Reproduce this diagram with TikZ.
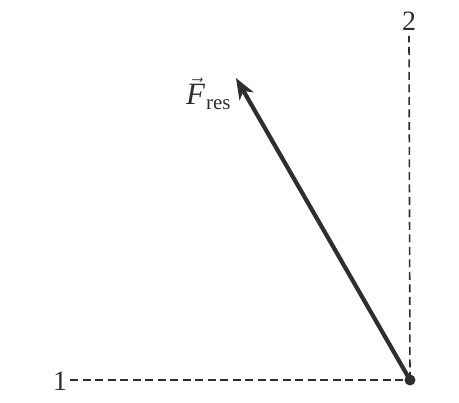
\documentclass[tikz,border=0pt]{standalone}
\usepackage{amsmath}
\usepackage{fontspec}
\setmainfont{Liberation Serif}
\usetikzlibrary{arrows.meta}
\definecolor{ink}{HTML}{2E2E2E}
\begin{document}
\begin{tikzpicture}[x=1pt,y=-1pt,
  dashline/.style={draw=ink,line width=1.6pt,dash pattern=on 8pt off 4.5pt},
  lbl/.style={font=\fontsize{28}{32}\selectfont,text=ink,inner sep=0pt},
  force/.style={draw=ink,line width=4.2pt,-{Stealth[length=21pt,width=16pt,inset=6pt]}}]
\useasboundingbox (0,0) rectangle (459,403);
\coordinate (O) at (410,380);
\coordinate (T) at (236,78);
\node[lbl] (one) at (60,381) {1};
\node[lbl] (two) at (409,21) {2};
\node[lbl,anchor=base west,font=\fontsize{31}{34}\selectfont] (F) at (186,105) {$\vec{\text{\itshape F}}$\hspace{1pt}{\fontsize{21}{24}\selectfont\raisebox{-5pt}{res}}};
\draw[dashline] (70,380) -- (O);
\draw[dashline] (O) -- (409,36);
\draw[force] (O) -- (T);
\fill[ink] (O) circle (5.5);
\end{tikzpicture}
\end{document}
